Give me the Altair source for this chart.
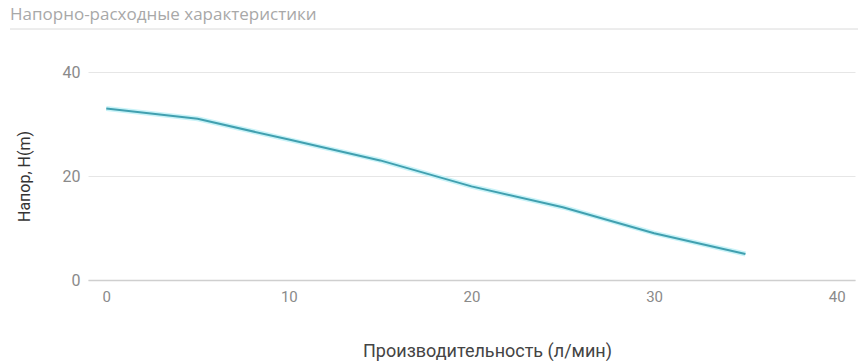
import altair as alt
import pandas as pd

flow = [0, 5, 10, 15, 20, 25, 30, 35]
head = [33, 31, 27, 23, 18, 14, 9, 5]
x_ticks = [0, 10, 20, 30, 40]
y_ticks = [0, 20, 40]

df = pd.DataFrame({"flow": flow, "head": head})

xs = alt.Scale(domain=[-1, 41], nice=False, zero=False)
ys = alt.Scale(domain=[0, 40], nice=False)

x_enc = alt.X("flow:Q", scale=xs, axis=alt.Axis(
    values=x_ticks, grid=False, domain=True, domainColor="#cfcfcf", domainWidth=1.5,
    ticks=False, labelPadding=9, labelFontSize=15, labelColor="#8a8a8a",
    labelFont="Liberation Sans Narrow, Roboto", title="Производительность (л/мин)",
    titleFont="Roboto", titleFontSize=18, titleFontWeight="normal", titleColor="#444444",
    titleX=399, titleY=76, titleBaseline="alphabetic",
))
y_enc = alt.Y("head:Q", scale=ys, axis=alt.Axis(
    values=y_ticks, grid=True, gridColor="#e6e6e6", domain=False, ticks=False,
    labelPadding=8, labelFontSize=16, labelColor="#8a8a8a", labelFont="Roboto",
    title="Напор, H(m)", titleFont="Roboto", titleFontSize=16,
    titleFontWeight="normal", titleColor="#333333", titlePadding=30,
))

glow = alt.Chart(df).mark_line(color="#c9f3f8", strokeWidth=5).encode(x=x_enc, y=y_enc)
line = alt.Chart(df).mark_line(color="#41a0b0", strokeWidth=2).encode(x="flow:Q", y="head:Q")

sep = alt.Chart(df).mark_rule(color="#ececec", strokeWidth=1).encode(
    x=alt.value(-78), x2=alt.value(770), y=alt.value(-43)
)

chart = alt.layer(sep, glow, line).properties(
    width=767, height=208,
    autosize=alt.AutoSizeParams(type="none"),
    padding={"left": 88, "top": 72, "right": 3, "bottom": 81},
    title=alt.TitleParams(
        "Напорно-расходные характеристики", anchor="start", frame="group",
        dx=-78, offset=5, fontSize=17, fontWeight="normal", color="#a8a8a8",
        font="Open Sans",
    ),
).configure_view(stroke=None)

chart.save("out.html", embed_options={"renderer": "svg", "actions": False})
